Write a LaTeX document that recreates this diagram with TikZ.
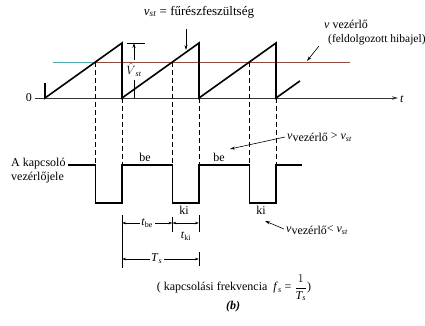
\documentclass[tikz,border=0pt]{standalone}
\usepackage{amsmath}
\usepackage{fontspec}
\setmainfont{Liberation Serif}
\usetikzlibrary{arrows.meta}
\begin{document}
\begin{tikzpicture}[x=1pt,y=-1pt,
  lbl/.style={font=\fontsize{12}{14}\selectfont, inner sep=1pt},
  big/.style={font=\fontsize{13}{15}\selectfont, inner sep=1pt},
  small/.style={font=\fontsize{11.5}{13}\selectfont, inner sep=1pt},
  sig/.style={line width=1.6pt, line join=miter},
  guide/.style={dash pattern=on 5pt off 3pt, line width=0.6pt},
  arr/.style={-{Stealth[length=5pt,width=3pt]}, line width=0.6pt},
  dim/.style={{Stealth[length=4pt,width=2.5pt]}-{Stealth[length=4pt,width=2.5pt]}, line width=0.6pt},
  thinl/.style={line width=0.7pt}
]
\definecolor{lvlteal}{RGB}{80,170,175}
\definecolor{lvlbrown}{RGB}{150,75,65}
\useasboundingbox (0,0) rectangle (425,325);

% axis
\coordinate (ax0) at (35,98);
\coordinate (ax1) at (398,98);
\draw[line width=0.9pt, -{Stealth[length=6pt,width=3.5pt]}, black!80] (ax0) -- (ax1);
\node[lbl, anchor=east] (zero) at (33,98) {0};
\node[lbl, anchor=west] (tlab) at (399,99) {\textit{t}};

% control level
\coordinate (lv0) at (53,62);
\coordinate (lv1) at (95.4,62);
\coordinate (lv2) at (350,62);
\draw[lvlteal, line width=0.8pt] (lv0) -- (lv1);
\draw[lvlbrown, line width=0.8pt] (lv1) -- (lv2);

% sawtooth
\draw[sig] (45,83) -- (45,98) -- (122,43) -- (122,98) -- (199,43) -- (199,98)
  -- (276,43) -- (276,98) -- (300,80.9);

% dashed guides
\foreach \xx in {95.4,172.4,249.4} \draw[guide] (\xx,62) -- (\xx,165);
\foreach \xx in {122,199,276} \draw[guide] (\xx,98) -- (\xx,165);

% switch signal
\draw[sig] (68,165) -- (95.4,165) -- (95.4,203) -- (122,203) -- (122,165)
  -- (172.4,165) -- (172.4,203) -- (199,203) -- (199,165) -- (249.4,165)
  -- (249.4,203) -- (276,203) -- (276,165) -- (302,165);

% V hat dimension
\draw[thinl] (127,43) -- (145,43);
\node[lbl, inner sep=0pt] (vhat) at (134,70) {\(\hat{V}\)\textsubscript{\textit{st}}};
\coordinate (vhtop) at (134,43);
\coordinate (vhbot) at (134,98);
\draw[arr] (134,60) -- (vhtop);
\draw[thinl] (134,80) -- (vhbot);

% top label
\node[big] (vst) at (199,12) {\textit{v}\textsubscript{\textit{st}} = fűrészfeszültség};
\coordinate (vstp) at (186,50);
\draw[arr] (186,29) -- (vstp);

% control label
\node[lbl, anchor=west] (vvez) at (323,24) {\textit{v} vezérlő};
\node[small, anchor=west] (hiba) at (327,40) {(feldolgozott hibajel)};
\coordinate (vvp) at (307,61);
\draw[arr] (319,46) -- (vvp);

% left label
\node[lbl, anchor=west, align=left] (kap) at (10,171) {A kapcsoló\\vezérlőjele};

% be / ki
\node[lbl] (be1) at (145,157) {be};
\node[lbl] (be2) at (219,157) {be};
\node[lbl] (ki1) at (184,210) {ki};
\node[lbl] (ki2) at (261,210) {ki};

% inequality labels
\node[lbl, anchor=west] (gt) at (286,137) {\textit{v}\raisebox{-2pt}{vezérlő} \textgreater{} \textit{v}\textsubscript{\textit{st}}};
\coordinate (gtp) at (230,149);
\draw[arr] (285,137) -- (gtp);
\node[lbl, anchor=west] (lt) at (285,230) {\textit{v}\raisebox{-2pt}{vezérlő}\textless{} \textit{v}\textsubscript{\textit{st}}};
\coordinate (ltp) at (265,221);
\draw[arr] (284,229) -- (ltp);

% dimension ticks
\draw[thinl] (122,215) -- (122,268);
\draw[thinl] (172.4,217) -- (172.4,232);
\draw[thinl] (199,215) -- (199,232);
\draw[thinl] (199,252) -- (199,266);

% t_be
\coordinate (d1a) at (122,223);
\coordinate (d1b) at (172.4,223);
\draw[dim] (d1a) -- (d1b) node[lbl, midway, fill=white, inner sep=1.5pt] (tbe) {\textit{t}\textsubscript{be}};
% t_ki
\coordinate (d2a) at (172.4,223);
\coordinate (d2b) at (199,223);
\draw[dim] (d2a) -- (d2b);
\node[lbl] (tki) at (186,236) {\textit{t}\textsubscript{ki}};
% T_s
\coordinate (d3a) at (122,259);
\coordinate (d3b) at (199,259);
\draw[dim] (d3a) -- (d3b) node[lbl, pos=0.45, fill=white, inner sep=1.5pt] (Ts) {\textit{T}\textsubscript{\textit{s}}};

% caption
\node[lbl] (cap) at (234,288) {( kapcsolási frekvencia\enspace\textit{f}\textsubscript{\textit{s}} = \(\dfrac{1}{\textit{T}_{\textit{s}}}\))};
\node[lbl] (b) at (233,307) {\textit{\textbf{(b)}}};
\end{tikzpicture}
\end{document}
